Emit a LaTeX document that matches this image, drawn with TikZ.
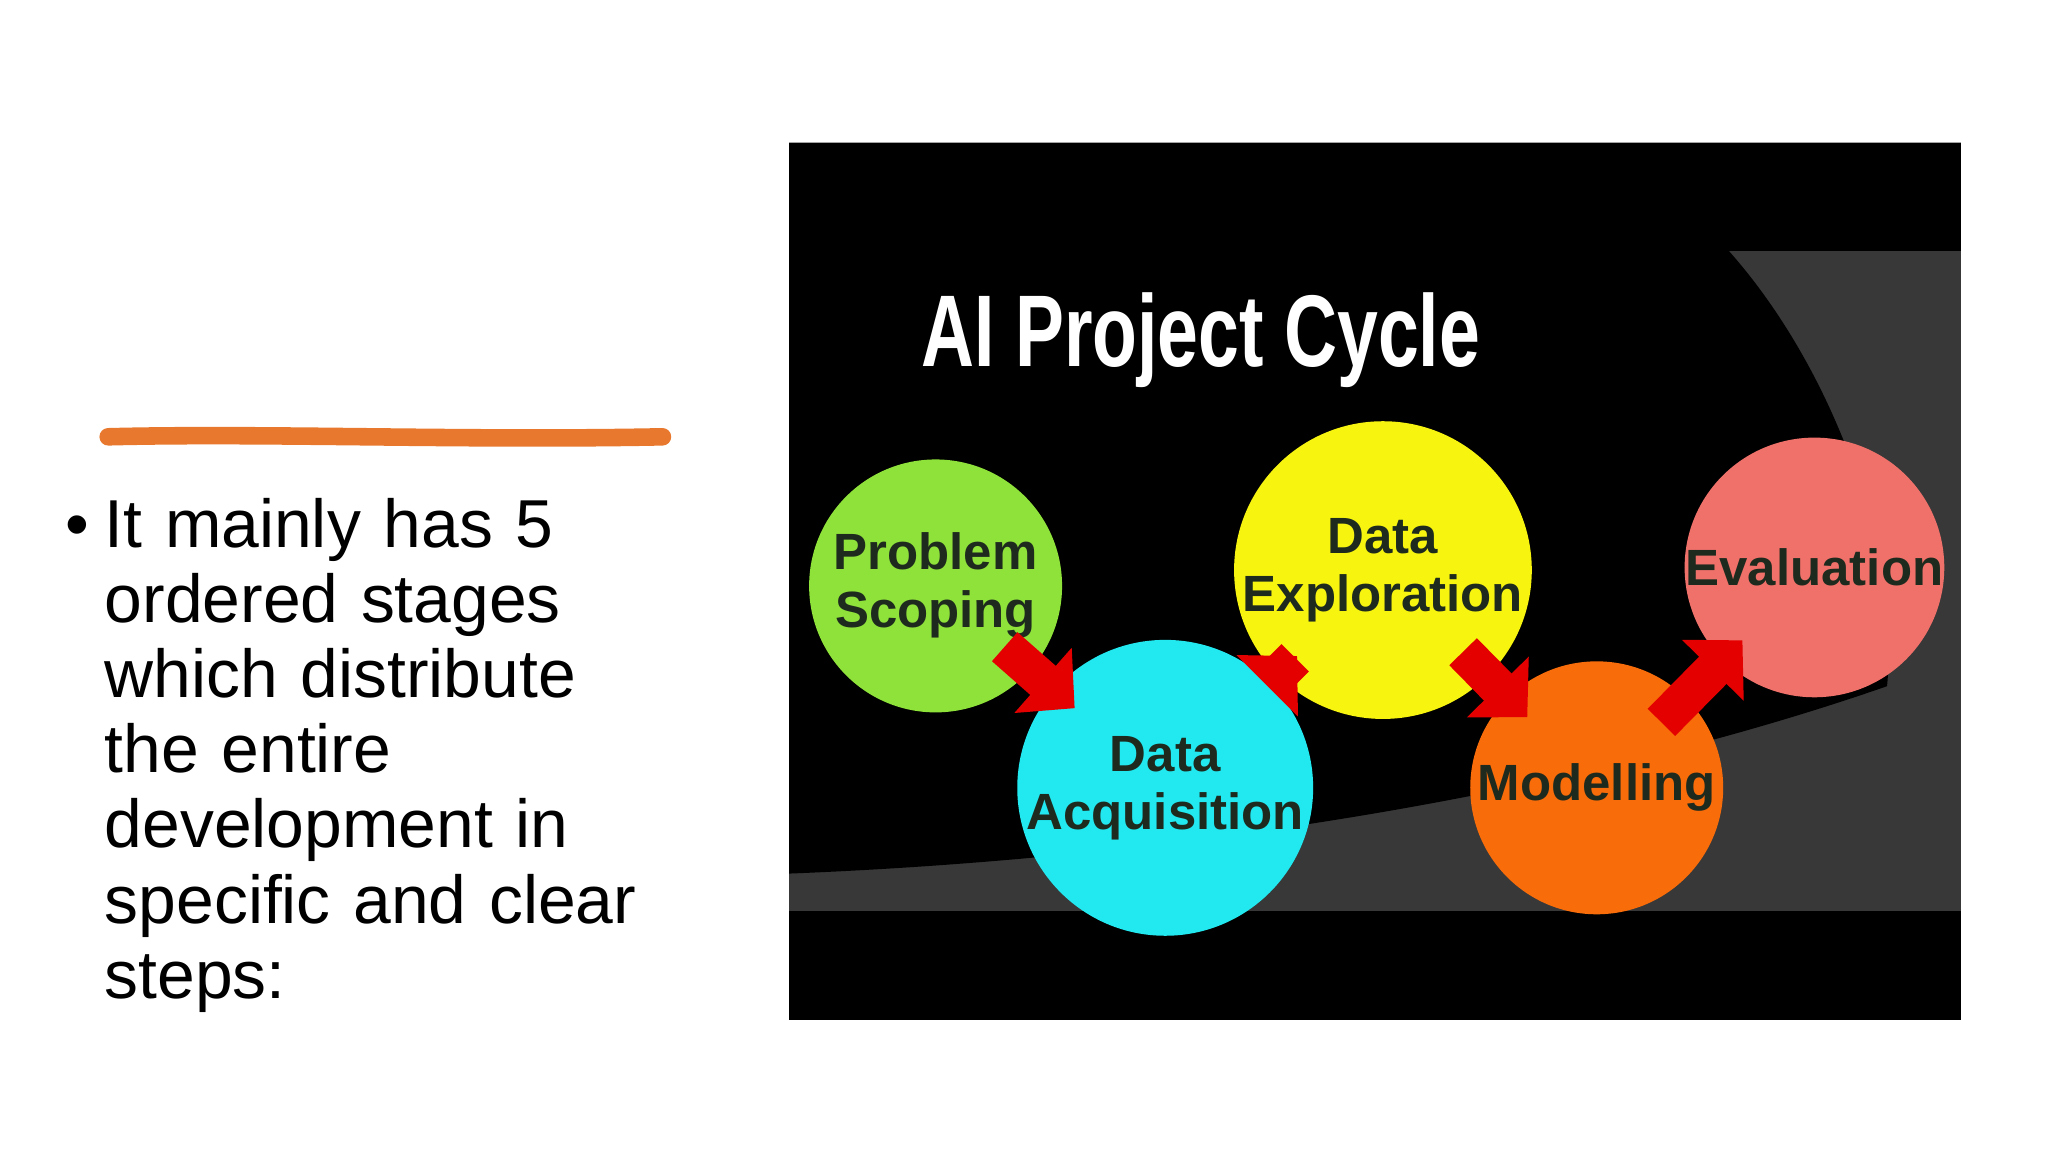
\documentclass[tikz,border=0pt]{standalone}
\usepackage{fontspec}
\setmainfont{Liberation Sans}
\usetikzlibrary{arrows.meta}
\definecolor{orline}{HTML}{E8782E}
\definecolor{cgreen}{HTML}{8EE23A}
\definecolor{ccyan}{HTML}{22E8F0}
\definecolor{cyellow}{HTML}{F7F510}
\definecolor{corange}{HTML}{F86C0A}
\definecolor{csalmon}{HTML}{F0716A}
\definecolor{gbg}{HTML}{383838}
\definecolor{ctext}{HTML}{1E2A1E}
\tikzset{
  stage/.style={circle,minimum size=2.53cm,inner sep=0pt,align=center,font=\bfseries\fontsize{14.5}{16.5}\selectfont,text=ctext},
  redarrow/.style={-{Triangle[width=24pt,length=12pt]},line width=11pt,red!90!black,shorten <=-10pt,shorten >=-8pt}
}
\begin{document}
\begin{tikzpicture}[x=0.013196cm,y=-0.013196cm]
\useasboundingbox (0,0) rectangle (1552,873);
\fill[white] (0,0) rectangle (1552,873);
\draw[orline,line width=5pt,line cap=round] (82,331) .. controls (200,328) and (350,334) .. (502,331);
\node[anchor=north west,align=left,font=\fontsize{19.3}{21.4}\selectfont,text width=9cm] (txt) at (40,368)
 {\makebox[30\dimexpr 0.013196cm\relax][l]{\textbullet}It mainly has 5\\
  \hspace*{30\dimexpr 0.013196cm\relax}ordered stages\\
  \hspace*{30\dimexpr 0.013196cm\relax}which distribute\\
  \hspace*{30\dimexpr 0.013196cm\relax}the entire\\
  \hspace*{30\dimexpr 0.013196cm\relax}development in\\
  \hspace*{30\dimexpr 0.013196cm\relax}specific and clear\\
  \hspace*{30\dimexpr 0.013196cm\relax}steps:};
% screen
\fill[black] (598,108) rectangle (1486,773);
\fill[gbg] (598,190) rectangle (1486,690);
\fill[black] (598,108) -- (1486,108) -- (1486,190) -- (1310,190)
  .. controls (1390,280) and (1440,420) .. (1430,520)
  .. controls (1200,600) and (900,650) .. (598,662) -- cycle;
\fill[black] (598,690) rectangle (1486,773);
\node[text=white,font=\bfseries\fontsize{29}{31}\selectfont,xscale=0.72] (title) at (910,258) {AI Project Cycle};
\node[stage,fill=cgreen] (ps) at (709,444) {Problem\\Scoping};
\node[stage,fill=ccyan] (da) at (883,597) {Data\\Acquisition};
\node[stage,fill=cyellow] (de) at (1048,432) {Data\\Exploration};
\node[stage,fill=corange] (mo) at (1210,597) {Modelling};
\node[stage,fill=csalmon] (ev) at (1375,430) {Evaluation};
\draw[redarrow] (ps) -- (da);
\draw[redarrow] (da) -- (de);
\draw[redarrow] (de) -- (mo);
\draw[redarrow] (mo) -- (ev);
\end{tikzpicture}
\end{document}
